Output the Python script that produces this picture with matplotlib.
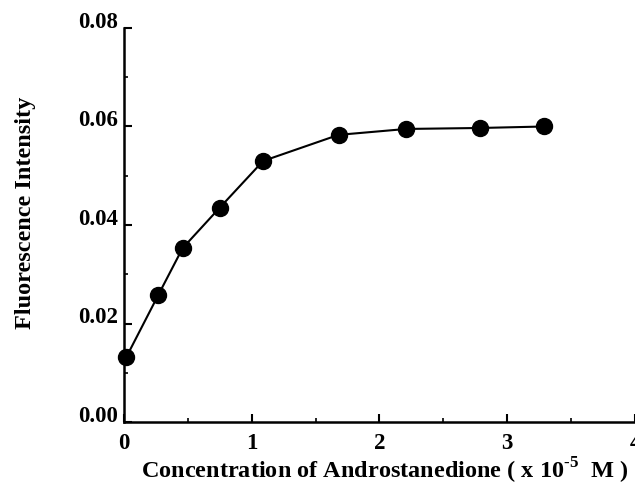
import matplotlib
matplotlib.use("Agg")
import matplotlib.pyplot as plt
import matplotlib.transforms as mtransforms
from matplotlib.ticker import MultipleLocator

# data
conc = [0.02, 0.27, 0.46, 0.75, 1.09, 1.68, 2.21, 2.79, 3.29]
intensity = [0.0132, 0.0258, 0.0353, 0.0435, 0.0530, 0.0583, 0.0595, 0.0597, 0.0600]
x_ticks = [0, 1, 2, 3, 4]
y_ticks = [0.00, 0.02, 0.04, 0.06, 0.08]


def main():
    plt.rcParams['font.family'] = ['Liberation Serif', 'DejaVu Serif']
    plt.rcParams['font.weight'] = 'bold'
    plt.rcParams['mathtext.fontset'] = 'custom'
    plt.rcParams['mathtext.rm'] = 'Liberation Serif:bold'
    plt.rcParams['mathtext.bf'] = 'Liberation Serif:bold'
    plt.rcParams['axes.unicode_minus'] = False

    fig = plt.figure(figsize=(6.35, 4.91), dpi=100)
    ax = fig.add_axes([0.195, 0.1405, 0.805, 0.8025])

    ax.plot(conc, intensity, color='black', lw=1.5, marker='o',
            markersize=11.5, clip_on=False)

    ax.set_xlim(0, 4)
    ax.set_ylim(0, 0.08)
    ax.set_xticks(x_ticks)
    ax.set_yticks(y_ticks)
    ax.set_xticklabels([str(v) for v in x_ticks])
    ax.set_yticklabels(['%.2f' % v for v in y_ticks])
    ax.xaxis.set_minor_locator(MultipleLocator(0.5))
    ax.yaxis.set_minor_locator(MultipleLocator(0.01))

    for side in ['top', 'right']:
        ax.spines[side].set_visible(False)
    for side in ['left', 'bottom']:
        ax.spines[side].set_linewidth(1.8)

    ax.tick_params(which='major', direction='in', length=6, width=1.5,
                   labelsize=16.5)
    ax.tick_params(axis='y', which='major', pad=4)
    ax.tick_params(axis='x', which='major', pad=8)
    ax.tick_params(which='minor', direction='in', length=3, width=1.2)
    shift = mtransforms.ScaledTranslation(0, 6 / 72, fig.dpi_scale_trans)
    for lab in ax.get_yticklabels():
        lab.set_transform(lab.get_transform() + shift)
    for lab in ax.get_xticklabels() + ax.get_yticklabels():
        lab.set_fontweight('bold')

    ax.set_xlabel(r'Concentration of Androstanedione ( x 10$^{\text{-5}}$  M )',
                  fontsize=17.5, fontweight='bold')
    ax.set_ylabel('Fluorescence Intensity', fontsize=17.5, fontweight='bold')
    ax.xaxis.set_label_coords(0.51, -0.085)
    ax.yaxis.set_label_coords(-0.172, 0.53)

    fig.savefig('out.png', dpi=100)


if __name__ == "__main__":
    main()
